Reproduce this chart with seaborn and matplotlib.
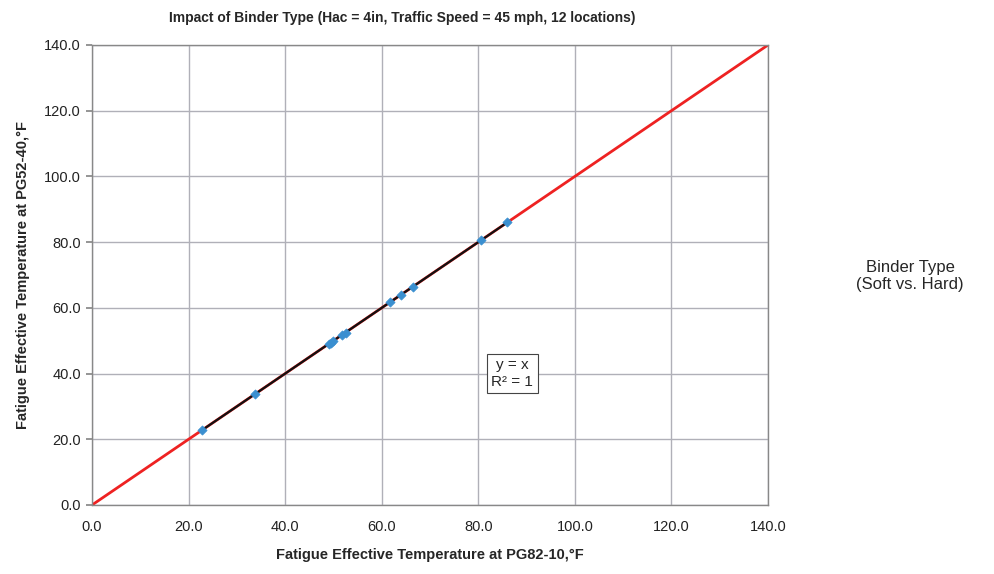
import matplotlib
matplotlib.use("Agg")
import matplotlib.pyplot as plt
import seaborn as sns
import numpy as np
import pandas as pd

# Data
x_pg82 = [22.7, 33.8, 49.0, 49.4, 49.9, 51.8, 52.5, 61.8, 64.0, 66.5, 80.6, 86.0]
y_pg52 = [22.7, 33.8, 49.0, 49.4, 49.9, 51.8, 52.5, 61.8, 64.0, 66.5, 80.6, 86.0]
ticks = [0.0, 20.0, 40.0, 60.0, 80.0, 100.0, 120.0, 140.0]
equality = [0.0, 140.0]

title = "Impact of Binder Type (Hac = 4in, Traffic Speed = 45 mph, 12 locations)"
xlabel = "Fatigue Effective Temperature at PG82-10,°F"
ylabel = "Fatigue Effective Temperature at PG52-40,°F"

sns.set_theme(style="white")
plt.rcParams['font.family'] = ['Liberation Sans', 'DejaVu Sans']

fig = plt.figure(figsize=(9.94, 5.74), dpi=100)
ax = fig.add_axes([92/994, 1-505/574, (768-92)/994, (505-45)/574])

df = pd.DataFrame({"x": x_pg82, "y": y_pg52})

# Equality line (red)
sns.lineplot(x=equality, y=equality, ax=ax, color="#ee2222", linewidth=2.0, zorder=2)
# Trendline (black) over data range
xs = [min(x_pg82), max(x_pg82)]
sns.lineplot(x=xs, y=xs, ax=ax, color="#111111", linewidth=1.6, zorder=3)
# Data markers
sns.scatterplot(data=df, x="x", y="y", ax=ax, marker="D", s=22, color="#3a8fd0",
                edgecolor="#3a8fd0", linewidth=0.5, zorder=4)

ax.set_xlim(0, 140)
ax.set_ylim(0, 140)
ax.set_xticks(ticks)
ax.set_yticks(ticks)
ax.set_xticklabels([f"{t:.1f}" for t in ticks], fontsize=10.5, color="#222222")
ax.set_yticklabels([f"{t:.1f}" for t in ticks], fontsize=10.5, color="#222222")
ax.grid(True, color="#b0b0b8", linewidth=1.0)
ax.set_axisbelow(True)
for s in ax.spines.values():
    s.set_color("#888888")
    s.set_linewidth(1.0)
ax.tick_params(axis="y", length=4, color="#888888", direction="out", left=True, pad=4)
ax.tick_params(axis="x", length=0, color="#888888", direction="out", bottom=True, pad=11)

ax.set_xlabel(xlabel, fontsize=10.5, fontweight="bold", labelpad=10)
ax.set_ylabel(ylabel, fontsize=10.5, fontweight="bold", labelpad=10)
fig.text(402/994, 1-18/574, title, fontsize=10, fontweight="bold", ha="center", va="center")

ax.text(87.0, 40.0, "y = x\nR² = 1", fontsize=11, ha="center", va="center",
        bbox=dict(boxstyle="square,pad=0.3", facecolor="white", edgecolor="#444444", linewidth=0.8),
        zorder=5, linespacing=1.2)

fig.text(910/994, 1-276/574, "Binder Type\n(Soft vs. Hard)", fontsize=12, ha="center", va="center",
         linespacing=1.2)

fig.savefig("out.png", dpi=100)
